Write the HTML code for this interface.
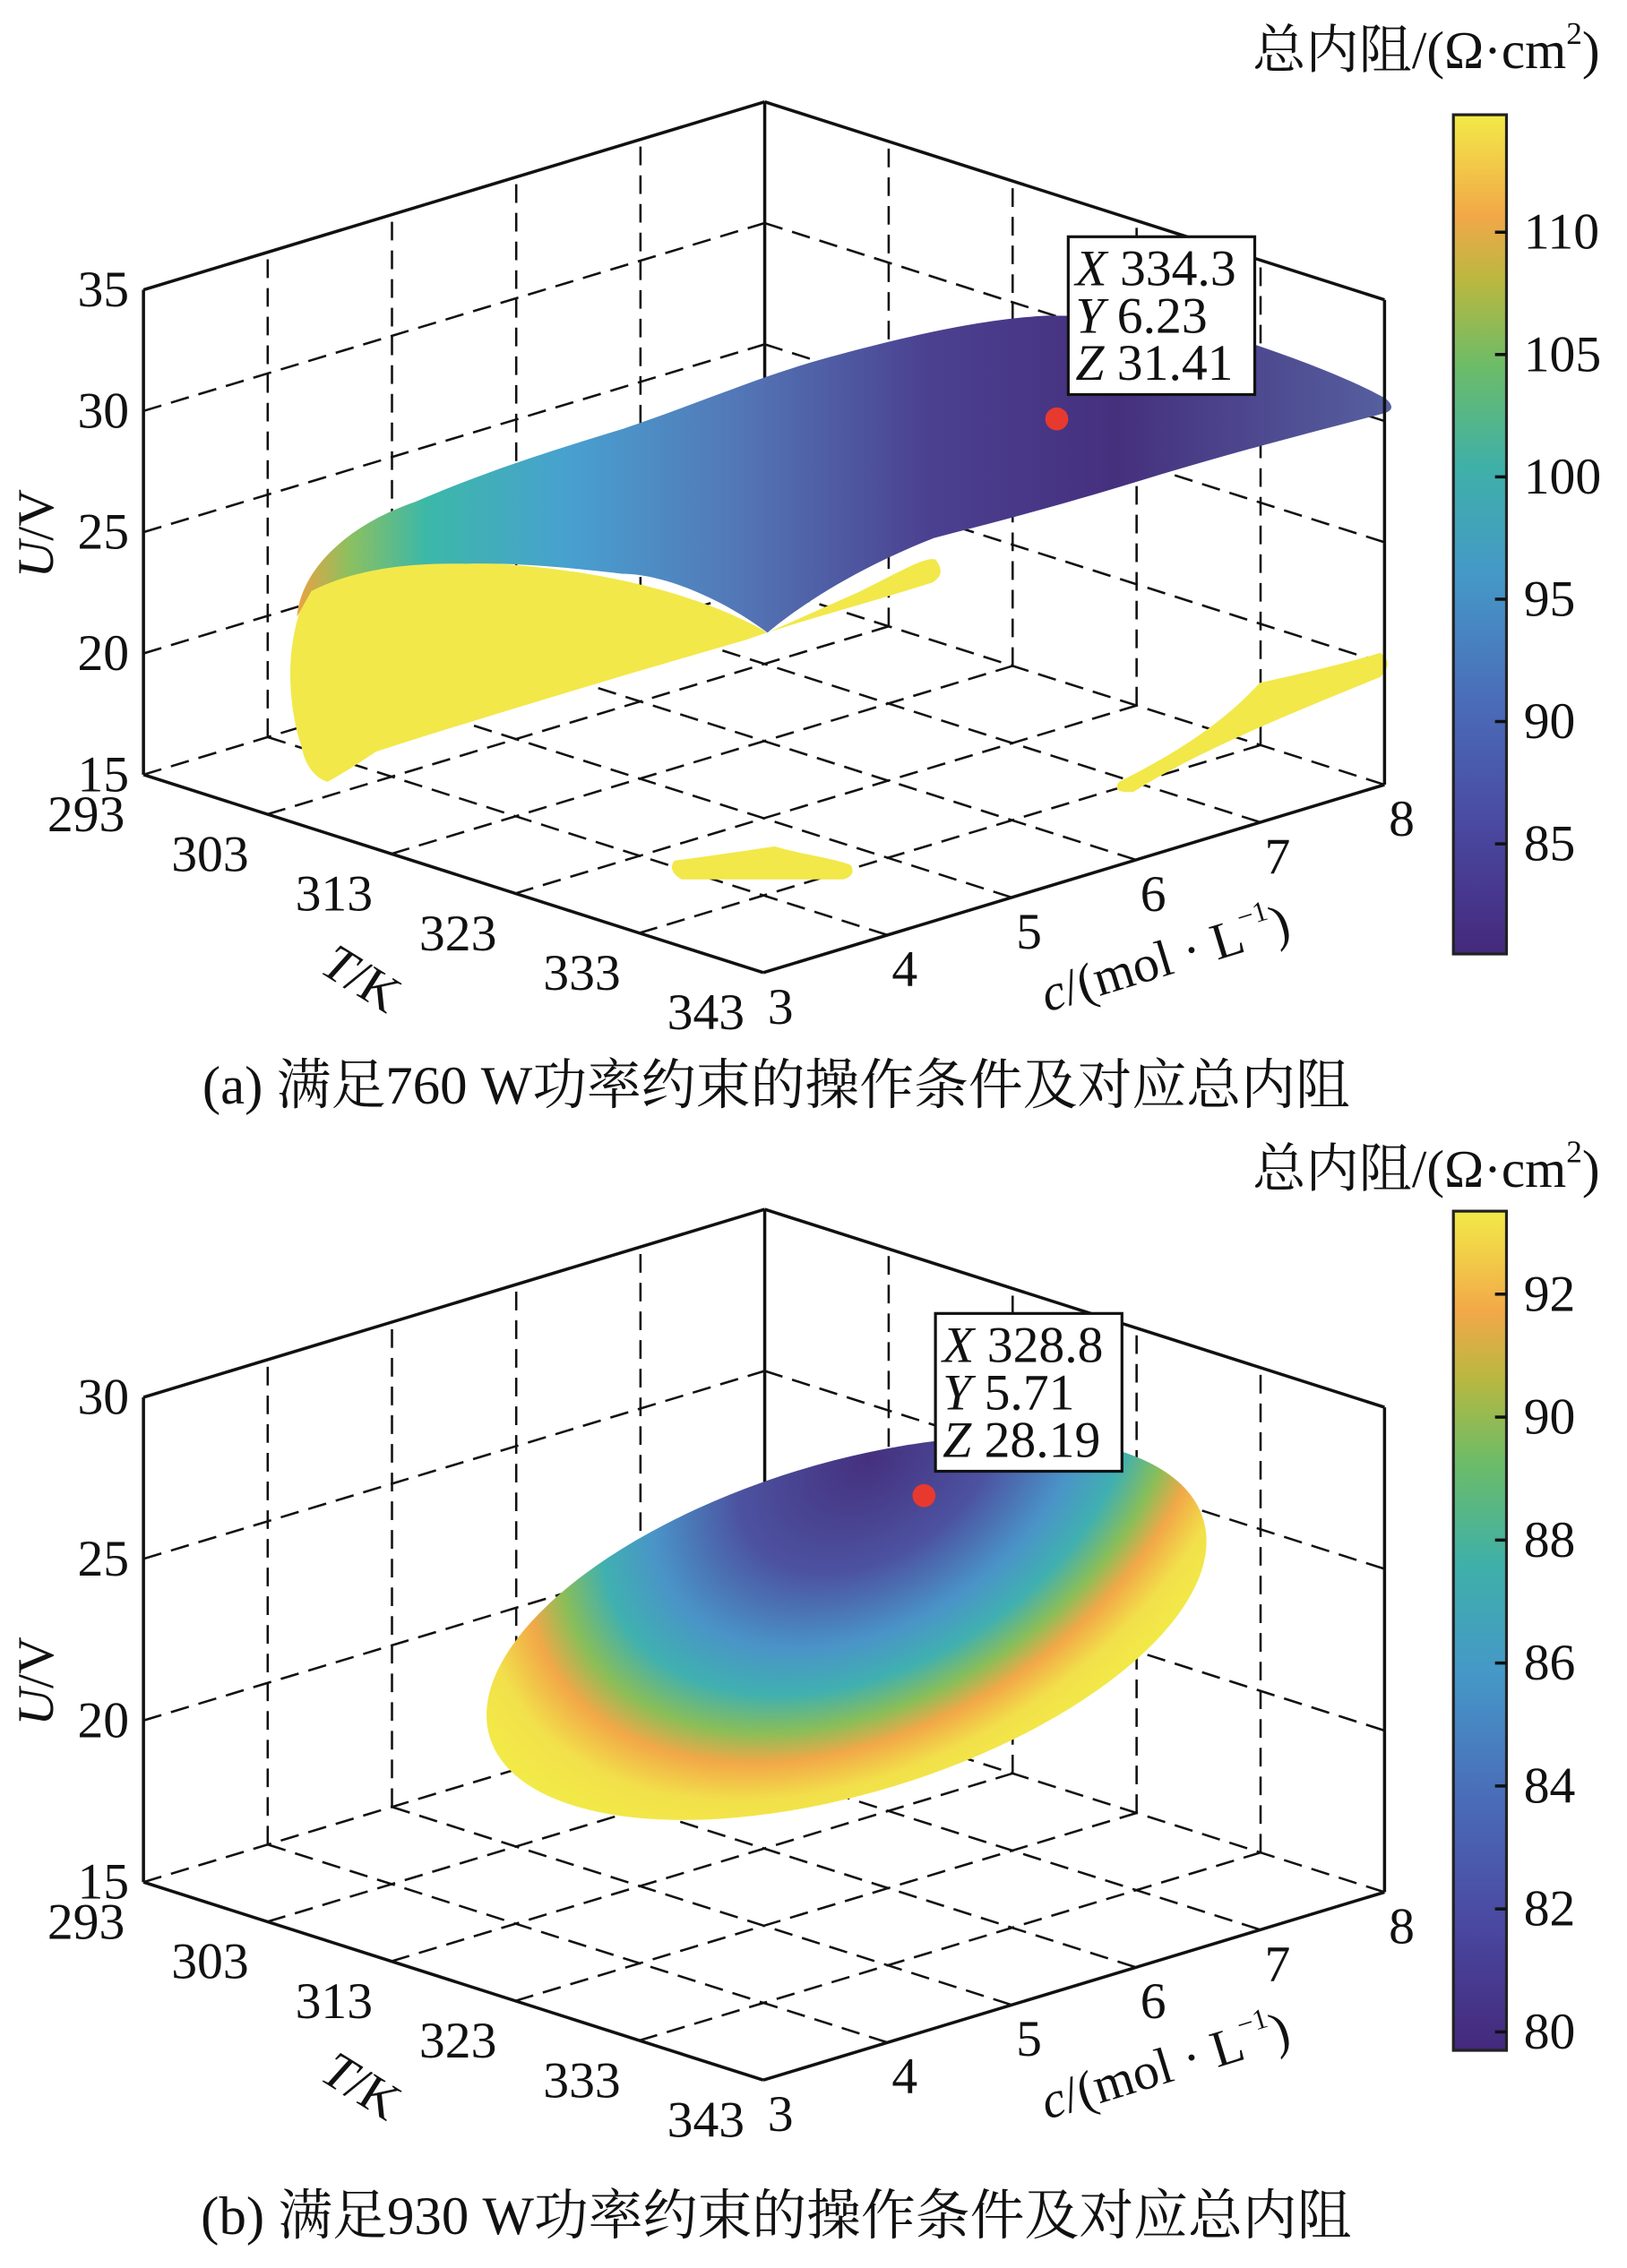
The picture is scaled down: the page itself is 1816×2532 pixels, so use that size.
<!DOCTYPE html>
<html><head><meta charset="utf-8"><style>
html,body{margin:0;padding:0;background:#fff;}
svg{display:block;}
text{font-family:"Liberation Serif","Noto Serif CJK SC",serif;fill:#111;}
</style></head>
<body>
<svg id="fig" width="1816" height="2532" viewBox="0 0 1134 1581" preserveAspectRatio="none" xmlns="http://www.w3.org/2000/svg">
<defs>
<linearGradient id="cbar" x1="0" y1="1" x2="0" y2="0">
<stop offset="0" stop-color="#44297c"/><stop offset="0.15" stop-color="#4a48a0"/>
<stop offset="0.3" stop-color="#4a6cb8"/><stop offset="0.45" stop-color="#4598c8"/>
<stop offset="0.58" stop-color="#3fb0a8"/><stop offset="0.7" stop-color="#6cbc68"/>
<stop offset="0.8" stop-color="#b8b840"/><stop offset="0.88" stop-color="#f2a848"/>
<stop offset="1" stop-color="#f2ea48"/></linearGradient>
<linearGradient id="blueA" gradientUnits="userSpaceOnUse" x1="205" y1="0" x2="970" y2="0">
<stop offset="0" stop-color="#f0a040"/><stop offset="0.05" stop-color="#8cc060"/>
<stop offset="0.12" stop-color="#3cb8a8"/><stop offset="0.25" stop-color="#48a0d0"/>
<stop offset="0.4" stop-color="#5378b8"/><stop offset="0.58" stop-color="#4b4090"/>
<stop offset="0.75" stop-color="#45307e"/><stop offset="1" stop-color="#5660a0"/></linearGradient>
<radialGradient id="ellB" gradientUnits="userSpaceOnUse" cx="640" cy="1030" r="300" fx="640" fy="1025" gradientTransform="translate(640 1030) rotate(-17) scale(1.1 0.75) translate(-640 -1030)">
<stop offset="0" stop-color="#45307e"/><stop offset="0.3" stop-color="#4c52a0"/>
<stop offset="0.5" stop-color="#4a94c8"/><stop offset="0.62" stop-color="#40b0b0"/>
<stop offset="0.72" stop-color="#8abe58"/><stop offset="0.8" stop-color="#f2a848"/>
<stop offset="0.9" stop-color="#f2e04a"/><stop offset="1" stop-color="#f2ea48"/></radialGradient>
</defs>
<g id="panelA"></g>
<g id="panelB"></g>
</svg>
<script>
// ---- data ----
const tTicks = [293, 303, 313, 323, 333, 343];
const cTicks = [3, 4, 5, 6, 7, 8];
const uTicksA = [15, 20, 25, 30, 35];
const uTicksB = [15, 20, 25, 30];
const cbarTicksA = [85, 90, 95, 100, 105, 110];
const cbarRangeA = [80.5, 114.8];
const cbarTicksB = [80, 82, 84, 86, 88, 90, 92];
const cbarRangeB = [79.7, 93.35];
const optA = [334.3, 6.23, 31.41];
const optB = [328.8, 5.71, 28.19];

const NS = 'http://www.w3.org/2000/svg';
function mk(parent, tag, attrs, txt) {
  const e = document.createElementNS(NS, tag);
  for (const k in attrs) e.setAttribute(k, attrs[k]);
  if (txt !== undefined) e.textContent = txt;
  parent.appendChild(e);
  return e;
}
function makeProj(dy, uMin, uMax) {
  const h = 338;
  return function (T, c, U) {
    const ft = (T - 293) / 50, fc = (c - 3) / 5, fu = (U - uMin) / (uMax - uMin);
    return [100 + ft * 432 + fc * 433, 540 + dy + ft * 138 - fc * 131 - fu * h];
  };
}
function line(g, a, b, dashed, name) {
  const l = mk(g, 'line', {x1: a[0], y1: a[1], x2: b[0], y2: b[1], stroke: '#111',
    'stroke-width': dashed ? 1.6 : 2.2, 'stroke-dasharray': dashed ? '13 7' : 'none'});
  
  
  return l;
}
function txt(g, x, y, s, opts, name) {
  const t = mk(g, 'text', Object.assign({x: x, y: y, 'font-size': 36, 'text-anchor': 'middle', 'dominant-baseline': 'central'}, opts || {}), s);
  
  
  return t;
}

function drawPanel(g, dy, uTicks, cbTicks, cbRange, opt, caption, surfaceFn, uTitleY) {
  const uMin = uTicks[0], uMax = uTicks[uTicks.length - 1];
  const P = makeProj(dy, uMin, uMax);
  const grid = mk(g, 'g', {});
  
  
  cTicks.slice(1, -1).forEach(c => line(grid, P(293, c, uMin), P(293, c, uMax), true, 'grid-wall-c-' + c));
  uTicks.slice(1, -1).forEach(u => line(grid, P(293, 3, u), P(293, 8, u), true, 'grid-wall-u-' + u));
  tTicks.slice(1, -1).forEach(t => line(grid, P(t, 8, uMin), P(t, 8, uMax), true, 'grid-wall-t-' + t));
  uTicks.slice(1, -1).forEach(u => line(grid, P(293, 8, u), P(343, 8, u), true, 'grid-wall2-u-' + u));
  tTicks.slice(0, -1).forEach(t => line(grid, P(t, 3, uMin), P(t, 8, uMin), true, 'grid-floor-t-' + t));
  cTicks.slice(1).forEach(c => line(grid, P(293, c, uMin), P(343, c, uMin), true, 'grid-floor-c-' + c));
  line(g, P(293, 8, uMin), P(293, 8, uMax), false, 'back-box-edge');

  surfaceFn(g);

  line(g, P(293, 3, uMin), P(293, 3, uMax), false, 'u-axis-line');
  line(g, P(343, 8, uMin), P(343, 8, uMax), false, 'right-box-edge');
  line(g, P(293, 3, uMax), P(293, 8, uMax), false, 'top-left-box-edge');
  line(g, P(293, 8, uMax), P(343, 8, uMax), false, 'top-right-box-edge');
  line(g, P(293, 3, uMin), P(343, 3, uMin), false, 't-axis-line');
  line(g, P(343, 3, uMin), P(343, 8, uMin), false, 'c-axis-line');

  uTicks.forEach(u => { const p = P(293, 3, u); txt(g, p[0] - 10, p[1], String(u), {'text-anchor': 'end'}, 'u-tick-label'); });
  tTicks.forEach(t => { const p = P(t, 3, uMin); txt(g, p[0] - 40, p[1] + 28, String(t), {}, 't-tick-label'); });
  cTicks.forEach(c => { const p = P(343, c, uMin); txt(g, p[0] + 12, p[1] + 24, String(c), {}, 'c-tick-label'); });

  const ut = txt(g, 0, 0, '', {transform: 'translate(25 ' + uTitleY + ') rotate(-90)'}, 'u-axis-title');
  mk(ut, 'tspan', {'font-style': 'italic'}, 'U');
  mk(ut, 'tspan', {}, '/V');
  const tt = txt(g, 0, 0, '', {transform: 'translate(252 ' + (682 + dy) + ') rotate(32)'}, 't-axis-title');
  mk(tt, 'tspan', {'font-style': 'italic'}, 'T');
  mk(tt, 'tspan', {}, '/K');
  const ct = txt(g, 0, 0, '', {transform: 'translate(812 ' + (668 + dy) + ') rotate(-17)'}, 'c-axis-title');
  mk(ct, 'tspan', {'font-style': 'italic'}, 'c');
  mk(ct, 'tspan', {}, '/(mol · L');
  mk(ct, 'tspan', {'font-size': 20, dy: -12}, '−1');
  mk(ct, 'tspan', {dy: 12}, ')');

  const op = P(opt[0], opt[1], opt[2]);
  const dot = mk(g, 'circle', {cx: op[0], cy: op[1], r: 8, fill: '#e8392e'});
  
  
  const bx = op[0] + 8, by = op[1] - 127;
  const tip = mk(g, 'g', {});
  
  
  mk(tip, 'rect', {x: bx, y: by, width: 130, height: 110, fill: '#fff', stroke: '#111', 'stroke-width': 2});
  const labels = ['X', 'Y', 'Z'];
  const vals = [opt[0].toFixed(1), opt[1].toFixed(2), opt[2].toFixed(2)];
  labels.forEach((l, i) => {
    const t = txt(tip, bx + 5, by + 22 + i * 33, '', {'text-anchor': 'start'}, 'datatip-' + l.toLowerCase());
    mk(t, 'tspan', {'font-style': 'italic'}, l);
    mk(t, 'tspan', {}, ' ' + vals[i]);
  });

  const cbTop = 80 + dy * 0.99, cbBot = 665 + dy * 0.99;
  const cy = v => cbBot - (v - cbRange[0]) / (cbRange[1] - cbRange[0]) * (cbBot - cbTop);
  const cb = mk(g, 'rect', {x: 1013, y: cbTop, width: 37, height: cbBot - cbTop, fill: 'url(#cbar)', stroke: '#222', 'stroke-width': 2});
  
  
  cbTicks.forEach(v => {
    line(g, [1042, cy(v)], [1050, cy(v)], false, 'colorbar-tick');
    txt(g, 1062, cy(v), String(v), {'text-anchor': 'start'}, 'colorbar-tick-label');
  });
  const cbt = txt(g, 1115, 35 + dy * 1.01, '', {'text-anchor': 'end', 'font-size': 37}, 'colorbar-title');
  mk(cbt, 'tspan', {}, '总内阻/(Ω·cm');
  mk(cbt, 'tspan', {'font-size': 22, dy: -12}, '2');
  mk(cbt, 'tspan', {dy: 12}, ')');
  txt(g, 541, caption[1], caption[0], {'font-size': 38}, 'caption');
}

function surfA(g) {
  const s = mk(g, 'g', {});
  
  
  mk(s, 'path', {fill: '#f2e84a', d: 'M470,600 C500,596 520,593 540,590 C560,596 580,598 593,603 Q597,610 588,613 L475,613 Q465,607 470,600 Z'});
  mk(s, 'path', {fill: '#f2e84a', d: 'M780,545 C830,520 858,498 878,476 C905,470 940,462 962,455 Q972,462 962,472 C900,497 832,525 790,552 Q774,553 780,545 Z'});
  mk(s, 'path', {fill: '#f2e84a', d: 'M215,412 C250,392 300,388 330,392 C420,396 490,415 535,441 L600,412 C628,398 645,388 652,390 Q660,400 650,406 C600,422 560,432 520,446 C430,472 330,502 262,524 Q238,540 228,545 Q214,540 210,520 C200,490 198,445 215,412 Z'});
  mk(s, 'path', {fill: 'url(#blueA)', d: 'M207,430 C210,395 245,365 289,350 C340,328 385,314 434,299 C490,280 530,262 578,249 C640,232 690,222 730,220 C790,220 830,226 868,238 C910,252 945,266 966,278 Q974,285 965,288 C900,305 850,318 795,335 C740,352 690,365 651,375 C600,395 560,420 535,441 C500,415 460,400 434,400 C400,396 360,392 325,393 C280,392 245,398 217,412 Z'});
}
function surfB(g) {
  const s = mk(g, 'g', {});
  
  
  mk(s, 'ellipse', {cx: 590, cy: 1135, rx: 260, ry: 115, transform: 'rotate(-17 590 1135)', fill: 'url(#ellB)'});
}

drawPanel(document.getElementById('panelA'), 0, uTicksA, cbarTicksA, cbarRangeA, optA, ['(a) 满足760 W功率约束的操作条件及对应总内阻', 757], surfA, 372);
drawPanel(document.getElementById('panelB'), 772, uTicksB, cbarTicksB, cbarRangeB, optB, ['(b) 满足930 W功率约束的操作条件及对应总内阻', 1545], surfB, 1172);
</script>
</body></html>
